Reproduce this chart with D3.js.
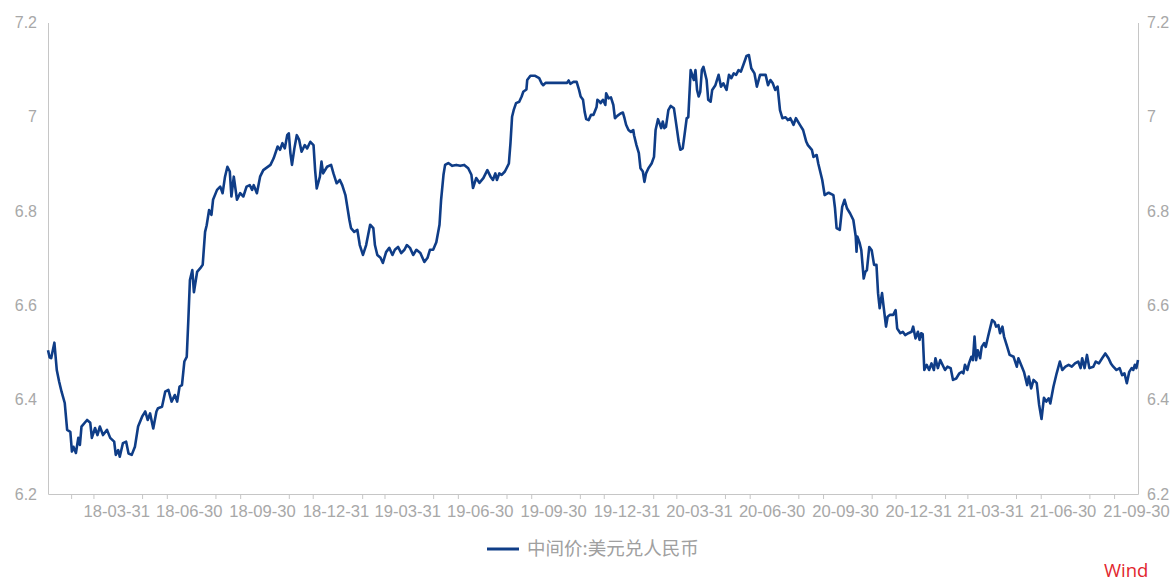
<!DOCTYPE html>
<html lang="zh">
<head>
<meta charset="UTF-8">
<title>中间价:美元兑人民币</title>
<script src="https://d3js.org/d3.v7.min.js"></script>
<style>
  html, body { margin: 0; padding: 0; background: #fff; }
  svg { display: block; font-family: "Open Sans", "Noto Sans", sans-serif; }
  .axis path, .axis line { stroke: #c6c6c6; }
  .axis text { fill: #a8a8a8; font-size: 16px; }
  .xlab text { font-size: 16.6px; }
</style>
</head>
<body>
<svg id="chart" width="1173" height="583"></svg>
<script>
  // 中间价:美元兑人民币 (daily fixing)
  const dates = [
    "18-01-02","18-01-04","18-01-06","18-01-10","18-01-13","18-01-16","18-01-19","18-01-23","18-01-26","18-01-30",
    "18-02-01","18-02-03","18-02-06","18-02-09","18-02-11","18-02-13","18-02-20","18-02-24","18-02-26","18-03-02",
    "18-03-05","18-03-08","18-03-12","18-03-17","18-03-21","18-03-26","18-03-28","18-03-31","18-04-02","18-04-06",
    "18-04-10","18-04-13","18-04-17","18-04-21","18-04-25","18-04-30","18-05-04","18-05-07","18-05-10","18-05-14",
    "18-05-18","18-05-20","18-05-25","18-05-29","18-06-02","18-06-06","18-06-10","18-06-13","18-06-16","18-06-19",
    "18-06-22","18-06-25","18-06-27","18-06-29","18-07-02","18-07-04","18-07-08","18-07-12","18-07-15","18-07-18",
    "18-07-20","18-07-23","18-07-26","18-07-28","18-08-02","18-08-06","18-08-09","18-08-12","18-08-15","18-08-18",
    "18-08-20","18-08-23","18-08-27","18-08-31","18-09-04","18-09-08","18-09-12","18-09-15","18-09-17","18-09-21",
    "18-09-25","18-09-29","18-10-08","18-10-12","18-10-17","18-10-20","18-10-23","18-10-26","18-10-29","18-10-31",
    "18-11-02","18-11-04","18-11-07","18-11-10","18-11-13","18-11-16","18-11-20","18-11-23","18-11-27","18-12-01",
    "18-12-03","18-12-05","18-12-09","18-12-11","18-12-13","18-12-18","18-12-23","18-12-26","18-12-30","19-01-03",
    "19-01-06","19-01-10","19-01-12","19-01-15","19-01-17","19-01-21","19-01-25","19-01-28","19-02-01","19-02-05",
    "19-02-10","19-02-14","19-02-16","19-02-19","19-02-23","19-02-26","19-03-02","19-03-06","19-03-10","19-03-13",
    "19-03-17","19-03-21","19-03-25","19-03-28","19-04-01","19-04-05","19-04-09","19-04-14","19-04-19","19-04-23",
    "19-04-26","19-04-30","19-05-04","19-05-08","19-05-10","19-05-13","19-05-15","19-05-19","19-05-24","19-05-29",
    "19-06-03","19-06-08","19-06-13","19-06-17","19-06-19","19-06-23","19-06-27","19-07-02","19-07-07","19-07-11",
    "19-07-14","19-07-17","19-07-19","19-07-22","19-07-25","19-07-29","19-08-03","19-08-05","19-08-07","19-08-09",
    "19-08-12","19-08-16","19-08-19","19-08-21","19-08-25","19-08-26","19-08-30","19-09-05","19-09-10","19-09-13",
    "19-09-15","19-09-18","19-09-28","19-10-15","19-10-17","19-10-19","19-10-23","19-10-27","19-10-30","19-11-01",
    "19-11-04","19-11-06","19-11-08","19-11-11","19-11-14","19-11-17","19-11-21","19-11-22","19-11-25","19-11-26",
    "19-11-29","19-12-02","19-12-03","19-12-06","19-12-09","19-12-12","19-12-14","19-12-17","19-12-21","19-12-24",
    "19-12-26","19-12-28","19-12-31","20-01-03","20-01-06","20-01-07","20-01-10","20-01-13","20-01-15","20-01-18",
    "20-01-20","20-01-22","20-01-25","20-01-29","20-02-01","20-02-03","20-02-06","20-02-08","20-02-10","20-02-12",
    "20-02-14","20-02-16","20-02-19","20-02-22","20-02-26","20-02-29","20-03-03","20-03-05","20-03-08","20-03-10",
    "20-03-13","20-03-15","20-03-18","20-03-22","20-03-24","20-03-26","20-03-28","20-03-30","20-04-01","20-04-03",
    "20-04-07","20-04-09","20-04-12","20-04-14","20-04-18","20-04-22","20-04-25","20-04-28","20-05-02","20-05-05",
    "20-05-08","20-05-11","20-05-14","20-05-17","20-05-20","20-05-23","20-05-27","20-05-30","20-06-02","20-06-06",
    "20-06-09","20-06-13","20-06-17","20-06-20","20-06-23","20-06-26","20-06-29","20-07-02","20-07-05","20-07-08",
    "20-07-11","20-07-15","20-07-18","20-07-21","20-07-25","20-07-28","20-08-02","20-08-06","20-08-10","20-08-12",
    "20-08-17","20-08-19","20-08-23","20-08-25","20-08-30","20-09-02","20-09-07","20-09-13","20-09-15","20-09-17",
    "20-09-21","20-09-24","20-09-27","20-09-30","20-10-04","20-10-08","20-10-11","20-10-12","20-10-13","20-10-16",
    "20-10-18","20-10-21","20-10-23","20-10-25","20-10-28","20-10-31","20-11-03","20-11-06","20-11-08","20-11-10",
    "20-11-13","20-11-15","20-11-18","20-11-20","20-11-23","20-11-27","20-11-30","20-12-02","20-12-06","20-12-09",
    "20-12-12","20-12-16","20-12-20","20-12-22","20-12-25","20-12-28","20-12-30","21-01-01","21-01-03","21-01-05",
    "21-01-08","21-01-11","21-01-14","21-01-17","21-01-19","21-01-22","21-01-25","21-01-29","21-01-31","21-02-03",
    "21-02-07","21-02-10","21-02-14","21-02-18","21-02-21","21-02-23","21-02-25","21-02-28","21-03-02","21-03-05",
    "21-03-07","21-03-09","21-03-11","21-03-13","21-03-16","21-03-18","21-03-21","21-03-23","21-03-26","21-03-28",
    "21-03-31","21-04-03","21-04-05","21-04-08","21-04-10","21-04-13","21-04-15","21-04-19","21-04-22","21-04-27",
    "21-05-01","21-05-03","21-05-08","21-05-10","21-05-14","21-05-16","21-05-19","21-05-22","21-05-26","21-05-29",
    "21-06-01","21-06-04","21-06-07","21-06-10","21-06-12","21-06-16","21-06-20","21-06-24","21-06-27","21-07-01",
    "21-07-05","21-07-09","21-07-13","21-07-17","21-07-20","21-07-22","21-07-25","21-07-28","21-07-31","21-08-05",
    "21-08-08","21-08-12","21-08-16","21-08-20","21-08-24","21-08-27","21-08-30","21-09-03","21-09-07","21-09-10",
    "21-09-13","21-09-16","21-09-19","21-09-22","21-09-24","21-09-26","21-09-28","21-09-30"
  ];
  const values = [
    6.505,6.490,6.488,6.521,6.463,6.438,6.417,6.393,6.336,6.332,
    6.290,6.300,6.287,6.319,6.304,6.343,6.357,6.351,6.319,6.340,
    6.325,6.343,6.325,6.336,6.319,6.311,6.283,6.293,6.279,6.308,
    6.311,6.286,6.283,6.300,6.343,6.364,6.375,6.357,6.371,6.339,
    6.375,6.382,6.385,6.417,6.421,6.396,6.410,6.396,6.428,6.431,
    6.481,6.491,6.569,6.654,6.675,6.628,6.671,6.679,6.686,6.756,
    6.770,6.802,6.792,6.824,6.845,6.852,6.838,6.873,6.894,6.884,
    6.831,6.873,6.824,6.838,6.831,6.852,6.855,6.845,6.855,6.838,
    6.873,6.887,6.898,6.912,6.937,6.930,6.944,6.933,6.961,6.965,
    6.923,6.898,6.933,6.961,6.951,6.926,6.940,6.933,6.947,6.940,
    6.887,6.848,6.873,6.905,6.880,6.894,6.898,6.880,6.859,6.866,
    6.855,6.834,6.813,6.781,6.764,6.756,6.760,6.728,6.707,6.728,
    6.771,6.764,6.728,6.707,6.701,6.690,6.713,6.722,6.707,6.718,
    6.724,6.711,6.718,6.728,6.722,6.707,6.718,6.711,6.692,6.701,
    6.718,6.718,6.734,6.771,6.824,6.877,6.898,6.902,6.896,6.898,
    6.896,6.898,6.891,6.877,6.849,6.870,6.860,6.870,6.887,6.873,
    6.866,6.880,6.866,6.880,6.877,6.884,6.901,6.944,7.000,7.014,
    7.029,7.032,7.043,7.053,7.058,7.078,7.087,7.087,7.082,7.071,
    7.067,7.072,7.072,7.072,7.077,7.070,7.074,7.074,7.057,7.043,
    7.036,7.011,6.995,6.993,7.004,7.004,7.021,7.036,7.032,7.029,
    7.036,7.025,7.050,7.039,7.041,7.025,6.997,7.002,7.007,7.009,
    6.997,6.983,6.972,6.968,6.972,6.961,6.940,6.923,6.891,6.884,
    6.862,6.880,6.891,6.901,6.915,6.972,6.995,6.986,6.976,6.990,
    6.976,6.979,7.014,7.023,7.018,6.983,6.947,6.930,6.933,6.958,
    6.997,6.999,7.099,7.078,7.099,7.057,7.043,7.053,7.099,7.106,
    7.078,7.036,7.032,7.057,7.067,7.089,7.064,7.071,7.057,7.089,
    7.082,7.092,7.089,7.099,7.096,7.110,7.129,7.131,7.103,7.092,
    7.064,7.089,7.089,7.089,7.067,7.078,7.071,7.057,7.064,7.014,
    6.997,6.999,6.993,6.997,6.983,6.997,6.983,6.972,6.947,6.940,
    6.930,6.915,6.919,6.901,6.866,6.834,6.839,6.834,6.806,6.764,
    6.760,6.809,6.824,6.806,6.795,6.781,6.746,6.714,6.746,6.732,
    6.717,6.657,6.671,6.675,6.724,6.717,6.686,6.686,6.626,6.594,
    6.626,6.597,6.555,6.576,6.580,6.580,6.590,6.551,6.541,6.544,
    6.537,6.541,6.544,6.555,6.530,6.544,6.527,6.541,6.539,6.463,
    6.474,6.463,6.477,6.463,6.488,6.467,6.484,6.470,6.463,6.470,
    6.467,6.442,6.445,6.456,6.459,6.456,6.474,6.463,6.477,6.491,
    6.484,6.534,6.484,6.505,6.488,6.512,6.520,6.512,6.534,6.548,
    6.569,6.565,6.555,6.558,6.541,6.555,6.534,6.512,6.495,6.491,
    6.470,6.488,6.467,6.459,6.431,6.449,6.424,6.442,6.435,6.389,
    6.359,6.404,6.396,6.403,6.392,6.428,6.456,6.481,6.463,6.470,
    6.474,6.470,6.477,6.481,6.467,6.488,6.467,6.495,6.467,6.470,
    6.481,6.477,6.488,6.498,6.488,6.477,6.470,6.463,6.467,6.452,
    6.456,6.435,6.459,6.467,6.463,6.474,6.467,6.484
  ];
  const yTicks = [6.2, 6.4, 6.6, 6.8, 7, 7.2];
  const xLabels = ["18-03-31","18-06-30","18-09-30","18-12-31","19-03-31","19-06-30","19-09-30",
                   "19-12-31","20-03-31","20-06-30","20-09-30","20-12-31","21-03-31","21-06-30","21-09-30"];
  const seriesName = "中间价:美元兑人民币";

  const parse = d3.timeParse("%y-%m-%d");
  const data = dates.map((d, i) => ({ date: parse(d), value: values[i] }));

  const svg = d3.select("#chart");
  const plotLeft = 48, plotRight = 1138, plotTop = 22.5, plotBottom = 494;

  const x = d3.scaleTime()
    .domain([parse("18-01-02"), parse("21-09-30")])
    .range([plotLeft, plotRight]);
  const y = d3.scaleLinear().domain([6.2, 7.2]).range([plotBottom, plotTop]);

  // month-end ticks, quarter ends carry the labels instead
  const labelDates = xLabels.map(parse);
  const monthEnds = d3.timeMonth.range(parse("18-01-01"), parse("21-10-01"))
    .map(d => d3.timeDay.offset(d3.timeMonth.offset(d, 1), -1))
    .filter(d => d > x.domain()[0] && d < x.domain()[1] && (d.getMonth() + 1) % 3 !== 0);

  svg.append("g").attr("class", "axis")
    .attr("transform", `translate(0,${plotBottom})`)
    .call(d3.axisBottom(x).tickValues(monthEnds).tickSize(5).tickSizeOuter(0).tickFormat(""));

  svg.append("g").attr("class", "axis xlab")
    .attr("transform", `translate(-2,${plotBottom})`)
    .call(d3.axisBottom(x).tickValues(labelDates).tickSize(0).tickPadding(11)
      .tickFormat(d3.timeFormat("%y-%m-%d")))
    .call(g => g.select(".domain").remove());

  svg.append("g").attr("class", "axis")
    .attr("transform", `translate(${plotLeft},0)`)
    .call(d3.axisLeft(y).tickValues(yTicks).tickSize(0).tickPadding(11).tickFormat(d3.format("")));

  svg.append("g").attr("class", "axis")
    .attr("transform", `translate(${plotRight},0)`)
    .call(d3.axisRight(y).tickValues(yTicks).tickSize(0).tickPadding(9).tickFormat(d3.format("")));

  const line = d3.line().x(d => x(d.date)).y(d => y(d.value));

  svg.append("path")
    .datum(data)
    .attr("fill", "none")
    .attr("stroke", "#0f3d87")
    .attr("stroke-width", 2.6)
    .attr("stroke-linejoin", "round")
    .attr("d", line);

  // legend
  const legend = svg.append("g").attr("transform", "translate(487,549)");
  legend.append("line").attr("x1", 0).attr("x2", 32)
    .attr("stroke", "#0f3d87").attr("stroke-width", 3);
  legend.append("text").attr("x", 40).attr("dy", "0.35em")
    .style("font-family", "'Noto Sans CJK SC', sans-serif")
    .style("font-size", "18.5px").attr("fill", "#a0a0a0")
    .text(seriesName);

  svg.append("text").attr("x", 1104).attr("y", 577)
    .style("font-size", "18.5px").attr("fill", "#e2262e")
    .text("Wind");
</script>
</body>
</html>
